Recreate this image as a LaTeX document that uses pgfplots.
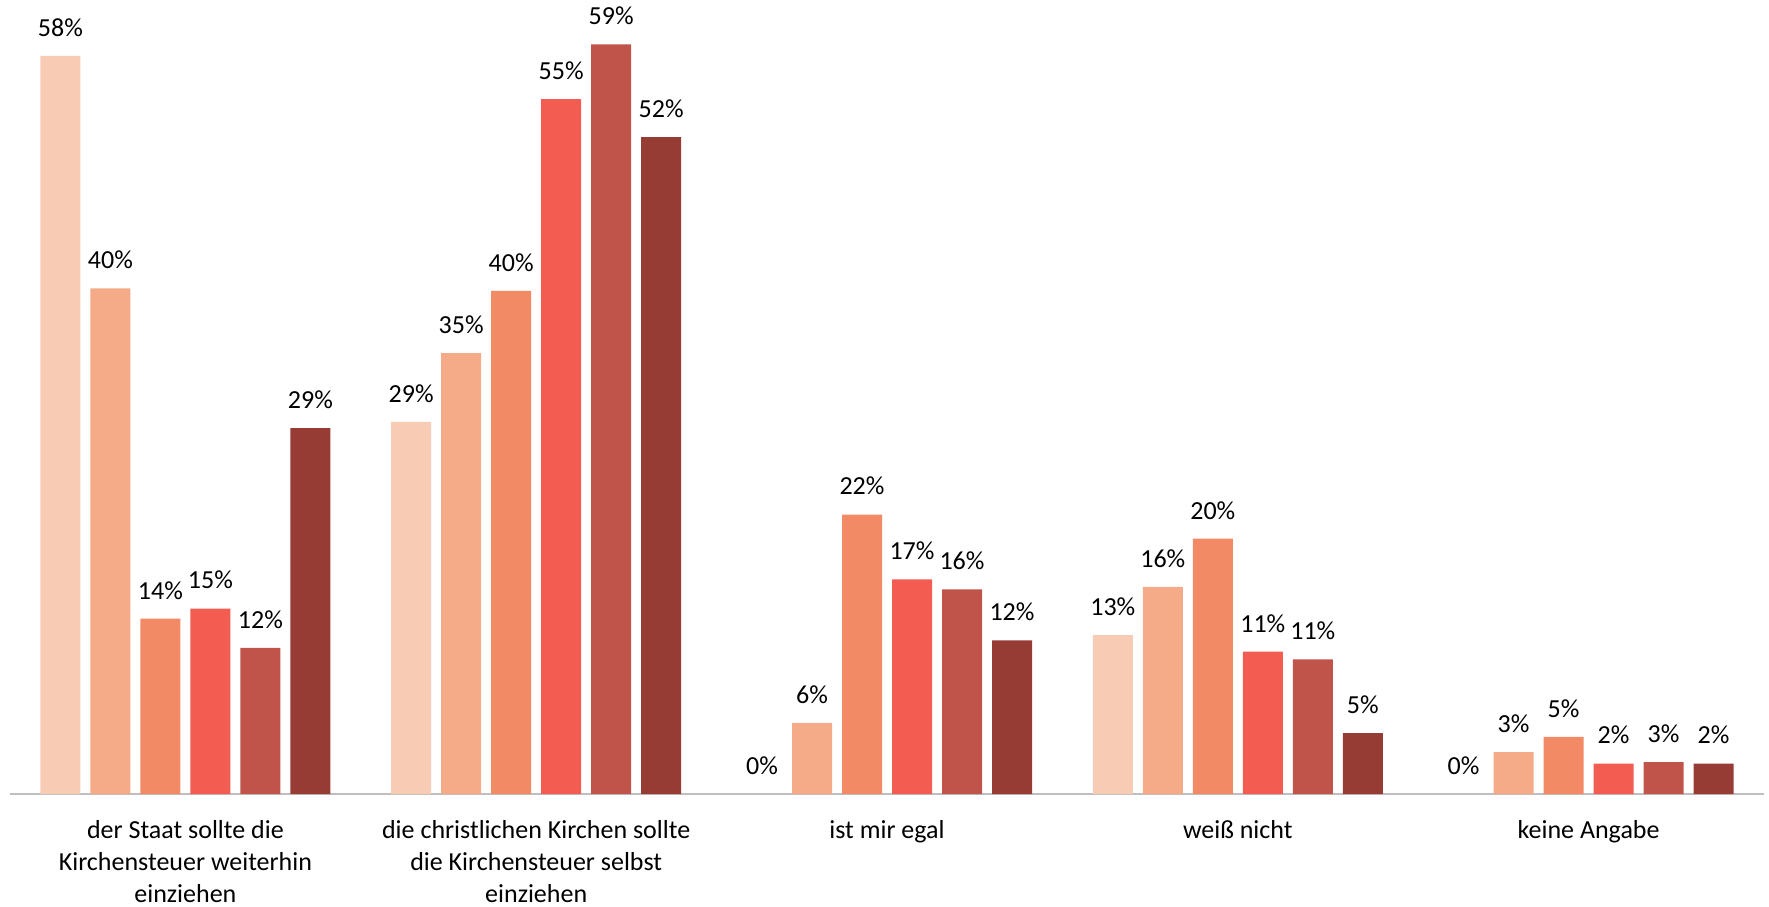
\documentclass[border=0pt]{standalone}
\usepackage{pgfplots}
\pgfplotsset{compat=1.18}
\usepackage{fontspec}
\setmainfont{Carlito}
\definecolor{c1}{HTML}{F8CBB4}
\definecolor{c2}{HTML}{F5AA88}
\definecolor{c3}{HTML}{F28A65}
\definecolor{c4}{HTML}{F35D51}
\definecolor{c5}{HTML}{C0544A}
\definecolor{c6}{HTML}{963C34}
\definecolor{axisgray}{HTML}{BFBFBF}
\begin{document}
\begin{tikzpicture}
\useasboundingbox (-5pt,-56pt) rectangle (879.5pt,397pt);
\begin{axis}[
  scale only axis, width=877pt, height=397pt,
  xmin=-0.5, xmax=4.5, ymin=0, ymax=62.5,
  axis x line=bottom, axis y line=none,
  axis line style={draw=axisgray, line width=0.8pt, -},
  xtick={0,1,2,3,4},
  xticklabels={{der Staat sollte die\\Kirchensteuer weiterhin\\einziehen},
               {die christlichen Kirchen sollte\\die Kirchensteuer selbst\\einziehen},
               {ist mir egal},{weiß nicht},{keine Angabe}},
  major tick length=0pt,
  ytick=\empty,
  ybar, bar width=20pt,
  clip=false,
  point meta=explicit,
  /pgf/number format/assume math mode=true,
  nodes near coords={\pgfmathprintnumber{\pgfplotspointmeta}\%},
  every node near coord/.append style={font=\fontsize{13}{16}\selectfont, anchor=south, inner sep=0pt, yshift=9.5pt, text=black},
  xticklabel style={font=\fontsize{13}{16}\selectfont, align=center, yshift=-9.5pt, text=black},
]
\addplot[fill=c1, draw=none, bar shift=-62.5pt] coordinates {(0,58.1) [58] (1,29.3) [29] (2,0) [0] (3,12.5) [13] (4,0) [0]};
\addplot[fill=c2, draw=none, bar shift=-37.5pt] coordinates {(0,39.8) [40] (1,34.7) [35] (2,5.6) [6] (3,16.3) [16] (4,3.3) [3]};
\addplot[fill=c3, draw=none, bar shift=-12.5pt] coordinates {(0,13.8) [14] (1,39.6) [40] (2,22.0) [22] (3,20.1) [20] (4,4.5) [5]};
\addplot[fill=c4, draw=none, bar shift=12.5pt] coordinates {(0,14.6) [15] (1,54.7) [55] (2,16.9) [17] (3,11.2) [11] (4,2.4) [2]};
\addplot[fill=c5, draw=none, bar shift=37.5pt] coordinates {(0,11.5) [12] (1,59.0) [59] (2,16.1) [16] (3,10.6) [11] (4,2.5) [3]};
\addplot[fill=c6, draw=none, bar shift=62.5pt] coordinates {(0,28.8) [29] (1,51.7) [52] (2,12.1) [12] (3,4.8) [5] (4,2.4) [2]};
\end{axis}
\end{tikzpicture}
\end{document}
